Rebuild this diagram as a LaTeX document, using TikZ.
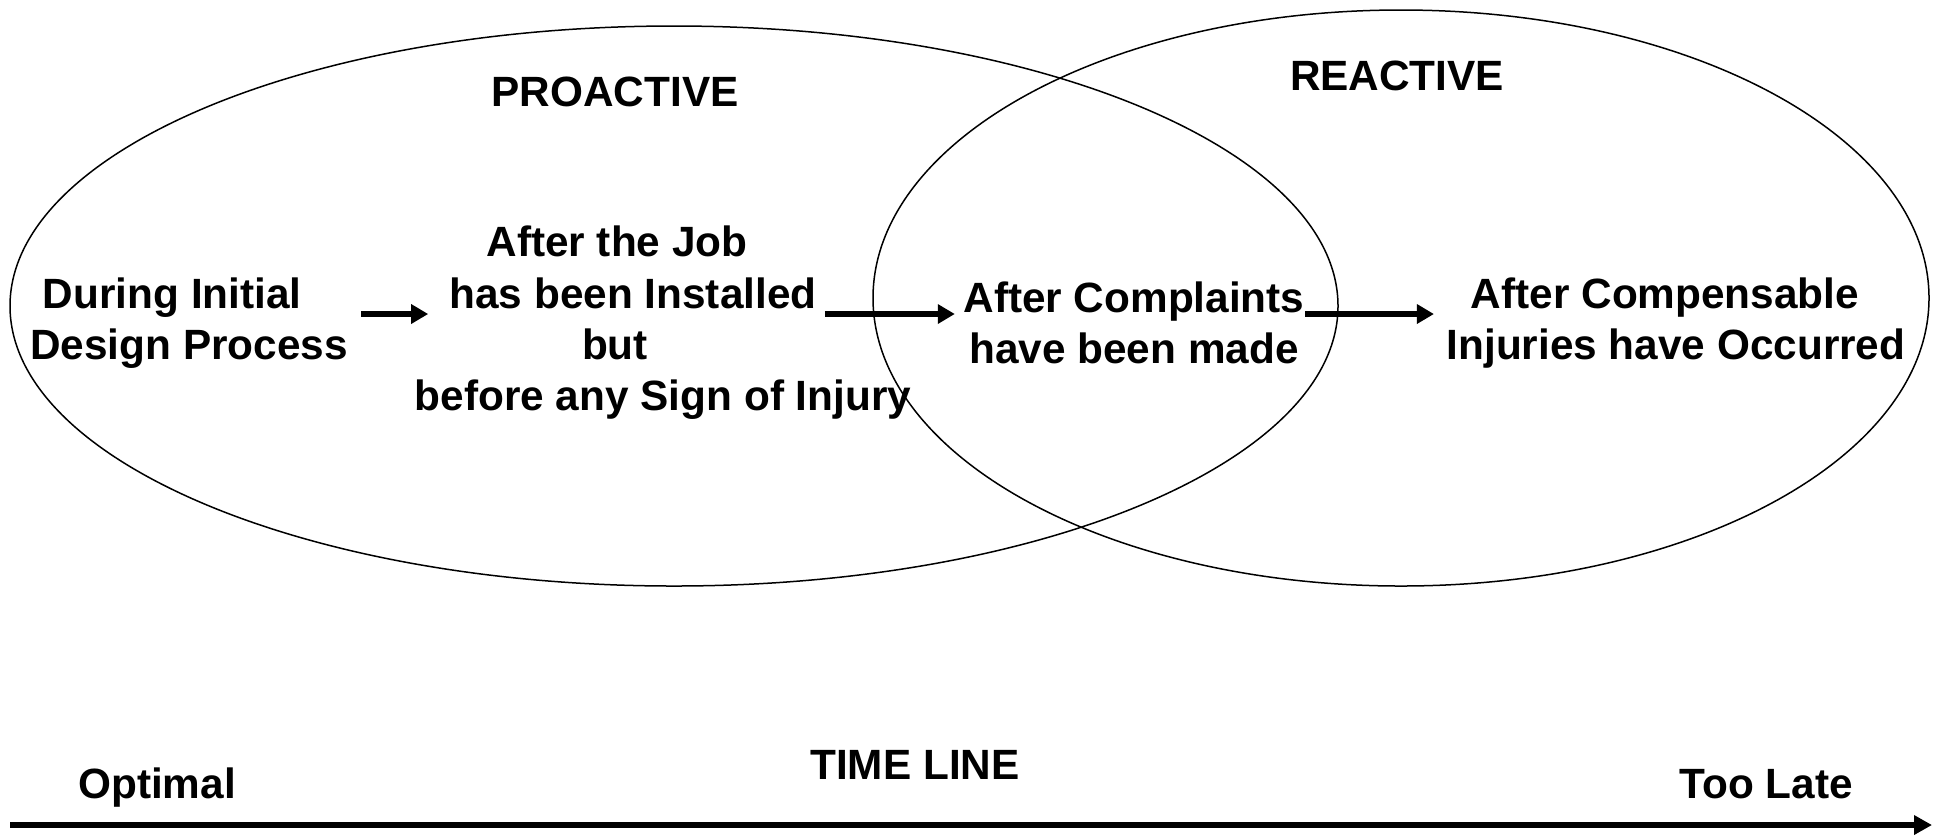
\documentclass[tikz,border=0pt]{standalone}
\usepackage{fontspec}
\setmainfont{Liberation Sans}
\usepackage{tikz}
\usetikzlibrary{arrows.meta}

\tikzset{
	stage/.style={inner sep=0pt, align=center, font=\fontsize{12.7}{15.4}\selectfont\bfseries},
	flow/.style={line width=1.8pt, -{Triangle[length=5.1pt, width=5.6pt]}},
	rim/.style={line width=0.45pt},
}

\begin{document}
\begin{tikzpicture}[x=0.3pt, y=-0.3pt]
	\useasboundingbox (0, 0) rectangle (1939, 835);

	% Draw the two overlapping ellipses
	\draw[rim] (674, 306) ellipse [x radius=664, y radius=280];
	\draw[rim] (1401, 298) ellipse [x radius=528, y radius=288];

	% Titles of the ellipses
	\node[stage, anchor=base] (proactive) at (615, 106) {PROACTIVE};
	\node[stage, anchor=base] (reactive)  at (1397, 90) {REACTIVE};

	% Stages, from left to right
	\node[stage] (design)      at (189, 323)  {\hbox{During Initial\kern10pt}\\Design Process};
	\node[stage] (job)         at (663, 323)  {\hbox{After the Job\kern27.6pt}\\\hbox{has been Installed\kern18pt}\\\hbox{but\kern28.8pt}\\before any Sign of Injury};
	\node[stage] (complaints)  at (1134, 323) {After Complaints\\have been made};
	\node[stage] (compensable) at (1676, 323) {\hbox{After Compensable\kern6.6pt}\\Injuries have Occurred};

	% Arrows between the stages
	\foreach \from/\sfrom/\to/\sto in {design/13/job/14, job/-87/complaints/-8, complaints/0/compensable/-12}
		\draw[flow] ([shift={(\sfrom, -9)}]\from.east) -- ([shift={(\sto, -9)}]\to.west);

	% Time line
	\coordinate (tstart) at (10, 825);
	\coordinate (tend)   at (1932, 825);
	\draw[flow, -{Triangle[length=5.4pt, width=5.6pt]}] (tstart) -- (tend);

	\node[stage, anchor=base] (timeline) at (915, 779)  {TIME LINE};
	\node[stage, anchor=base] (optimal)  at (157, 798)  {Optimal};
	\node[stage, anchor=base] (toolate)  at (1766, 798) {Too Late};

\end{tikzpicture}
\end{document}
